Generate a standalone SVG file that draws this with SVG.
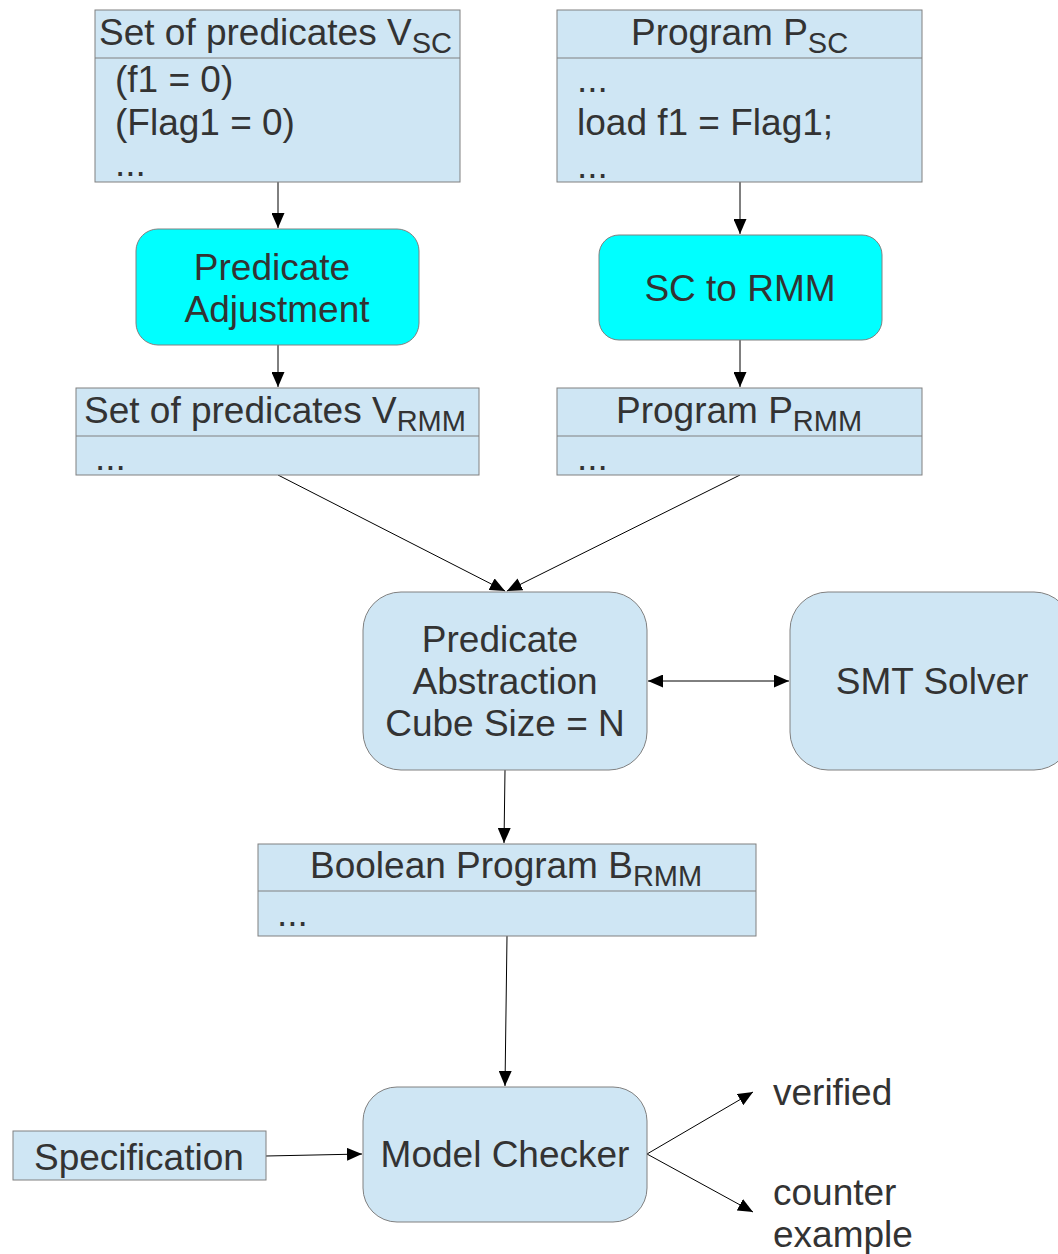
<svg xmlns="http://www.w3.org/2000/svg" width="1058" height="1254" viewBox="0 0 1058 1254">
  <style>
    .box { fill: #cfe6f4; stroke: #808080; stroke-width: 1; }
    .proc { fill: #00ffff; stroke: #808080; stroke-width: 1; }
    .sep { stroke: #808080; stroke-width: 1; }
    .t { font-family: "Liberation Sans", Arial, sans-serif; font-size: 37px; fill: #333333; }
    .mid { text-anchor: middle; }
    .sub { font-size: 29px; }
    .edge { stroke: #000000; stroke-width: 1; fill: none; marker-end: url(#arrow); }
  </style>
  <defs>
    <marker id="arrow" viewBox="0 0 15 13" refX="15" refY="6.5" markerWidth="15" markerHeight="13" markerUnits="userSpaceOnUse" orient="auto-start-reverse">
      <path d="M0,0 L15,6.5 L0,13 Z" fill="#000000"/>
    </marker>
  </defs>

  <rect width="1058" height="1254" fill="#ffffff"/>

  <g id="connectors">
    <line class="edge" x1="278" y1="182" x2="278" y2="228"/>
    <line class="edge" x1="740" y1="182" x2="740" y2="234"/>
    <line class="edge" x1="278" y1="345" x2="278" y2="387"/>
    <line class="edge" x1="740" y1="340" x2="740" y2="387"/>
    <line class="edge" x1="278" y1="475" x2="505" y2="591"/>
    <line class="edge" x1="740" y1="475" x2="507" y2="591"/>
    <line class="edge" x1="648" y1="681" x2="789" y2="681" marker-start="url(#arrow)"/>
    <line class="edge" x1="505" y1="770" x2="504" y2="843"/>
    <line class="edge" x1="507" y1="936" x2="505" y2="1086"/>
    <line class="edge" x1="266" y1="1156" x2="362" y2="1154"/>
    <line class="edge" x1="647" y1="1154" x2="753" y2="1092"/>
    <line class="edge" x1="647" y1="1154" x2="753" y2="1212"/>
  </g>

  <g id="predicates-sc">
    <rect class="box" x="95" y="10" width="365" height="172"/>
    <line class="sep" x1="95" y1="58" x2="460" y2="58"/>
    <text class="t" x="99" y="45">Set of predicates V<tspan class="sub" dy="8">SC</tspan></text>
    <text class="t" x="115" y="92">(f1 = 0)</text>
    <text class="t" x="115" y="135">(Flag1 = 0)</text>
    <text class="t" x="115" y="176">...</text>
  </g>

  <g id="program-sc">
    <rect class="box" x="557" y="10" width="365" height="172"/>
    <line class="sep" x1="557" y1="58" x2="922" y2="58"/>
    <text class="t" x="631" y="45">Program P<tspan class="sub" dy="8">SC</tspan></text>
    <text class="t" x="577" y="92">...</text>
    <text class="t" x="577" y="135">load f1 = Flag1;</text>
    <text class="t" x="577" y="178">...</text>
  </g>

  <g id="predicate-adjustment">
    <rect class="proc" x="136" y="229" width="283" height="116" rx="22" ry="22"/>
    <text class="t mid" x="272" y="280">Predicate</text>
    <text class="t mid" x="277" y="322">Adjustment</text>
  </g>

  <g id="sc-to-rmm">
    <rect class="proc" x="599" y="235" width="283" height="105" rx="20" ry="20"/>
    <text class="t mid" x="740" y="301">SC to RMM</text>
  </g>

  <g id="predicates-rmm">
    <rect class="box" x="76" y="388" width="403" height="87"/>
    <line class="sep" x1="76" y1="436" x2="479" y2="436"/>
    <text class="t" x="84" y="423">Set of predicates V<tspan class="sub" dy="8">RMM</tspan></text>
    <text class="t" x="95" y="470">...</text>
  </g>

  <g id="program-rmm">
    <rect class="box" x="557" y="388" width="365" height="87"/>
    <line class="sep" x1="557" y1="436" x2="922" y2="436"/>
    <text class="t" x="616" y="423">Program P<tspan class="sub" dy="8">RMM</tspan></text>
    <text class="t" x="577" y="470">...</text>
  </g>

  <g id="predicate-abstraction">
    <rect class="box" x="363" y="592" width="284" height="178" rx="38" ry="38"/>
    <text class="t mid" x="500" y="652">Predicate</text>
    <text class="t mid" x="505" y="694">Abstraction</text>
    <text class="t mid" x="505" y="736">Cube Size = N</text>
  </g>

  <g id="smt-solver">
    <rect class="box" x="790" y="592" width="282" height="178" rx="38" ry="38"/>
    <text class="t mid" x="932" y="694">SMT Solver</text>
  </g>

  <g id="boolean-program">
    <rect class="box" x="258" y="844" width="498" height="92"/>
    <line class="sep" x1="258" y1="891" x2="756" y2="891"/>
    <text class="t" x="310" y="878">Boolean Program B<tspan class="sub" dy="8">RMM</tspan></text>
    <text class="t" x="277" y="926">...</text>
  </g>

  <g id="model-checker">
    <rect class="box" x="363" y="1087" width="284" height="135" rx="34" ry="34"/>
    <text class="t mid" x="505" y="1167">Model Checker</text>
  </g>

  <g id="specification">
    <rect class="box" x="13" y="1131" width="253" height="49"/>
    <text class="t" x="34" y="1170">Specification</text>
  </g>

  <g id="verified">
    <text class="t" x="773" y="1105">verified</text>
  </g>

  <g id="counter-example">
    <text class="t" x="773" y="1205">counter</text>
    <text class="t" x="773" y="1247">example</text>
  </g>
</svg>
